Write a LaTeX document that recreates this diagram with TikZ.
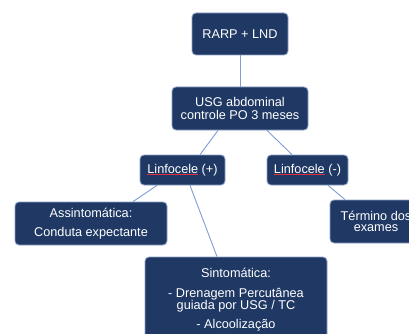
\documentclass[tikz,border=0pt]{standalone}
\usepackage{fontspec}
\setmainfont{Liberation Sans}
\definecolor{boxfill}{HTML}{1F3864}
\definecolor{boxedge}{HTML}{8FA3C8}
\definecolor{connc}{HTML}{7F9ED6}
\definecolor{spellred}{HTML}{E03040}
\newcommand{\spellul}[1]{\setbox0\hbox{#1}\rlap{\color{spellred}\rule[-1.8pt]{\wd0}{0.7pt}}\box0\relax}
\begin{document}
\begin{tikzpicture}[x=1pt,y=-1pt,
  box/.style={draw=boxedge,line width=0.8pt,fill=boxfill,rounded corners=4pt,
    text=white,font=\fontsize{12.7}{13.3}\selectfont,align=center,inner sep=0pt},
  lbl/.style={text=white,font=\fontsize{12.7}{13.3}\selectfont,inner sep=0pt,anchor=base},
  conn/.style={draw=connc,line width=0.9pt}]
\useasboundingbox (0,0) rectangle (409,334);
\clip (0,0) rectangle (409,334);
\fill[white] (0,0) rectangle (409,334);

\node[box,minimum width=96pt,minimum height=42pt] (b1) at (240,34) {RARP + LND};
\node[box,minimum width=136pt,minimum height=43pt] (b2) at (240,108.5) {USG abdominal\\controle PO 3 meses};
\node[box,minimum width=85pt,minimum height=30pt] (b3) at (182.5,170) {\spellul{Linfocele}\ (+)};
\node[box,minimum width=81pt,minimum height=30pt] (b4) at (307.5,170) {\spellul{Linfocele}\ (-)};
\node[box,minimum width=152pt,minimum height=43pt] (b5) at (91,223.5) {Assintomática:\\[5pt]Conduta expectante};
\node[box,minimum width=92pt,minimum height=43pt,font=\fontsize{12.7}{11.7}\selectfont] (b6) at (376,221.5) {Término dos\\exames};
\node[box,minimum width=182pt,minimum height=90pt] (b7) at (236,302) {};
\node[lbl] (t7a) at (236,277) {Sintomática:};
\node[lbl] (t7b) at (236,297.7) {- Drenagem Percutânea};
\node[lbl] (t7c) at (236,309.3) {guiada por USG / TC};
\node[lbl] (t7d) at (236,328.3) {- Alcoolização};

\draw[conn] (b1.south) -- (b2.north);
\draw[conn] ([xshift=-22pt]b2.south) -- ([xshift=17.5pt]b3.north);
\draw[conn] ([xshift=27pt]b2.south) -- ([xshift=-15.5pt]b4.north);
\draw[conn] ([xshift=-25.5pt]b3.south) -- ([xshift=42pt]b5.north);
\draw[conn] ([xshift=7.5pt]b3.south) -- ([xshift=-19pt]b7.north);
\draw[conn] ([xshift=20.5pt]b4.south) -- ([xshift=-31pt]b6.north);
\end{tikzpicture}
\end{document}
